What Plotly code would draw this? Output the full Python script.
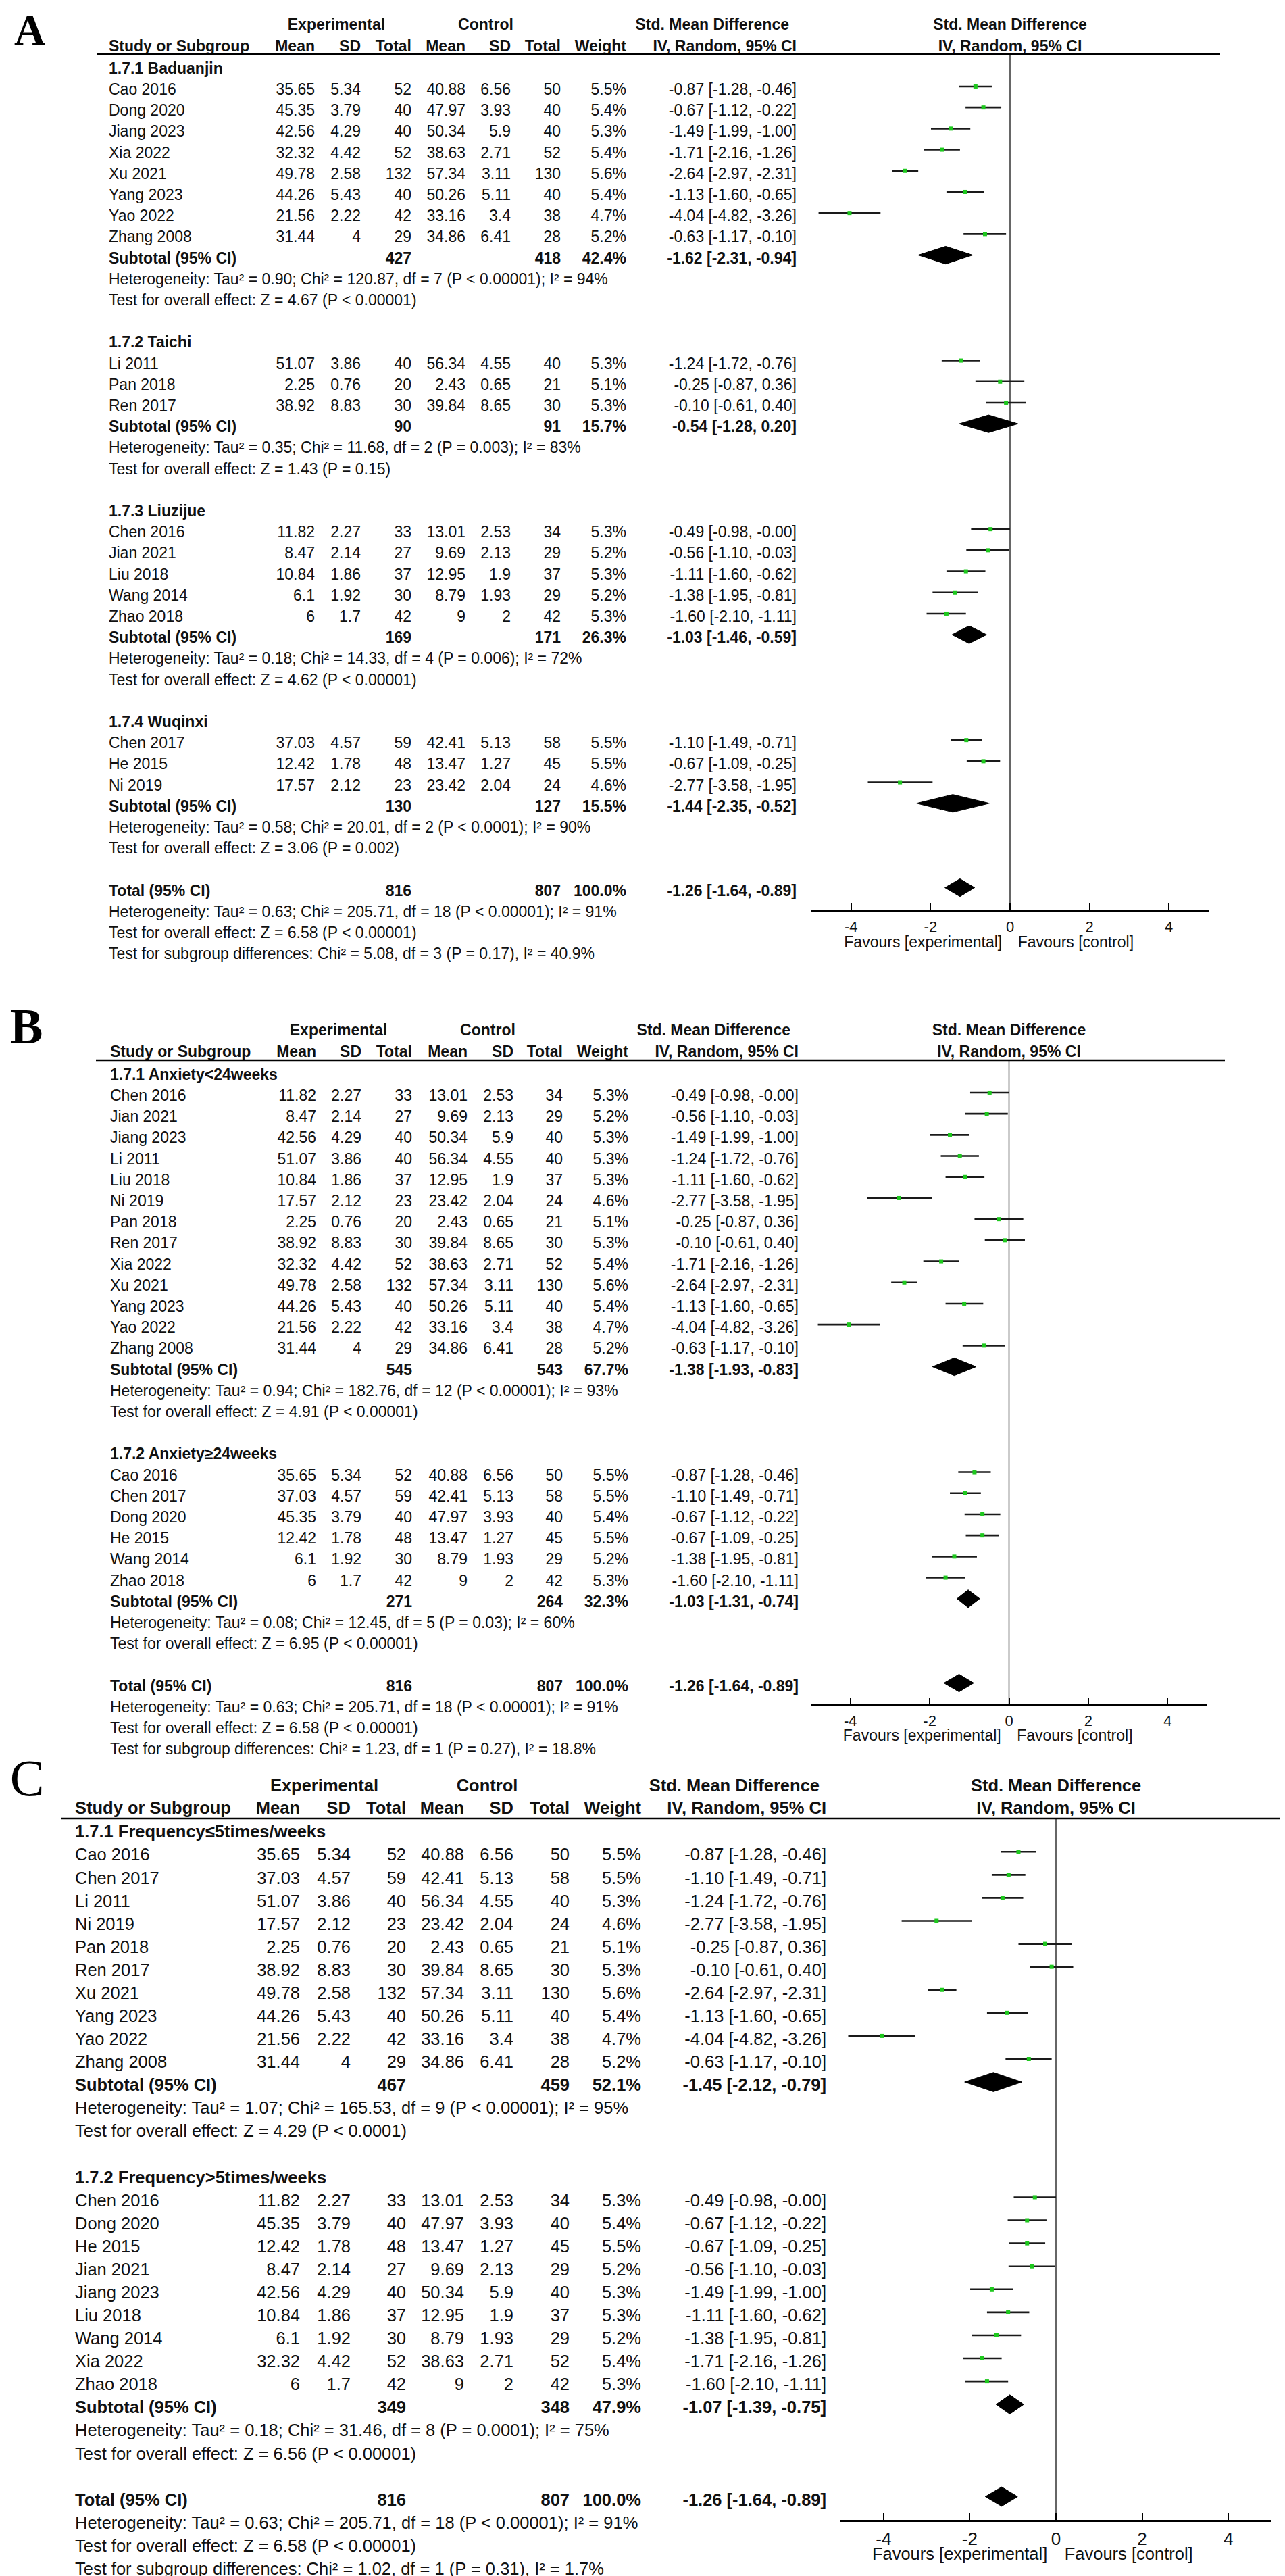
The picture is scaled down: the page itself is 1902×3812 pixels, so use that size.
import plotly.graph_objects as go

W, H = 1902, 3812

# ------------------------------------------------------------------ data
study_names = ["Cao 2016", "Dong 2020", "Jiang 2023", "Xia 2022", "Xu 2021", "Yang 2023", "Yao 2022", "Zhang 2008",
               "Li 2011", "Pan 2018", "Ren 2017",
               "Chen 2016", "Jian 2021", "Liu 2018", "Wang 2014", "Zhao 2018",
               "Chen 2017", "He 2015", "Ni 2019"]
exp_mean = [35.65, 45.35, 42.56, 32.32, 49.78, 44.26, 21.56, 31.44, 51.07, 2.25, 38.92,
            11.82, 8.47, 10.84, 6.1, 6, 37.03, 12.42, 17.57]
exp_sd = [5.34, 3.79, 4.29, 4.42, 2.58, 5.43, 2.22, 4, 3.86, 0.76, 8.83,
          2.27, 2.14, 1.86, 1.92, 1.7, 4.57, 1.78, 2.12]
exp_n = [52, 40, 40, 52, 132, 40, 42, 29, 40, 20, 30, 33, 27, 37, 30, 42, 59, 48, 23]
ctl_mean = [40.88, 47.97, 50.34, 38.63, 57.34, 50.26, 33.16, 34.86, 56.34, 2.43, 39.84,
            13.01, 9.69, 12.95, 8.79, 9, 42.41, 13.47, 23.42]
ctl_sd = [6.56, 3.93, 5.9, 2.71, 3.11, 5.11, 3.4, 6.41, 4.55, 0.65, 8.65,
          2.53, 2.13, 1.9, 1.93, 2, 5.13, 1.27, 2.04]
ctl_n = [50, 40, 40, 52, 130, 40, 38, 28, 40, 21, 30, 34, 29, 37, 29, 42, 58, 45, 24]
weight = [5.5, 5.4, 5.3, 5.4, 5.6, 5.4, 4.7, 5.2, 5.3, 5.1, 5.3, 5.3, 5.2, 5.3, 5.2, 5.3, 5.5, 5.5, 4.6]
smd = [-0.87, -0.67, -1.49, -1.71, -2.64, -1.13, -4.04, -0.63, -1.24, -0.25, -0.10,
       -0.49, -0.56, -1.11, -1.38, -1.60, -1.10, -0.67, -2.77]
ci_low = [-1.28, -1.12, -1.99, -2.16, -2.97, -1.60, -4.82, -1.17, -1.72, -0.87, -0.61,
          -0.98, -1.10, -1.60, -1.95, -2.10, -1.49, -1.09, -3.58]
ci_high = [-0.46, -0.22, -1.00, -1.26, -2.31, -0.65, -3.26, -0.10, -0.76, 0.36, 0.40,
           -0.00, -0.03, -0.62, -0.81, -1.11, -0.71, -0.25, -1.95]

# Panel A: by exercise type
a_titles = ["1.7.1 Baduanjin", "1.7.2 Taichi", "1.7.3 Liuzijue", "1.7.4 Wuqinxi"]
a_members = [["Cao 2016", "Dong 2020", "Jiang 2023", "Xia 2022", "Xu 2021", "Yang 2023", "Yao 2022", "Zhang 2008"],
             ["Li 2011", "Pan 2018", "Ren 2017"],
             ["Chen 2016", "Jian 2021", "Liu 2018", "Wang 2014", "Zhao 2018"],
             ["Chen 2017", "He 2015", "Ni 2019"]]
a_sub_n_exp = [427, 90, 169, 130]
a_sub_n_ctl = [418, 91, 171, 127]
a_sub_weight = [42.4, 15.7, 26.3, 15.5]
a_sub_smd = [-1.62, -0.54, -1.03, -1.44]
a_sub_low = [-2.31, -1.28, -1.46, -2.35]
a_sub_high = [-0.94, 0.20, -0.59, -0.52]
a_sub_het = ["Heterogeneity: Tau² = 0.90; Chi² = 120.87, df = 7 (P < 0.00001); I² = 94%",
             "Heterogeneity: Tau² = 0.35; Chi² = 11.68, df = 2 (P = 0.003); I² = 83%",
             "Heterogeneity: Tau² = 0.18; Chi² = 14.33, df = 4 (P = 0.006); I² = 72%",
             "Heterogeneity: Tau² = 0.58; Chi² = 20.01, df = 2 (P < 0.0001); I² = 90%"]
a_sub_test = ["Test for overall effect: Z = 4.67 (P < 0.00001)",
              "Test for overall effect: Z = 1.43 (P = 0.15)",
              "Test for overall effect: Z = 4.62 (P < 0.00001)",
              "Test for overall effect: Z = 3.06 (P = 0.002)"]
a_subgroup_diff = "Test for subgroup differences: Chi² = 5.08, df = 3 (P = 0.17), I² = 40.9%"

# Panel B: by duration
b_titles = ["1.7.1 Anxiety<24weeks", "1.7.2 Anxiety≥24weeks"]
b_members = [["Chen 2016", "Jian 2021", "Jiang 2023", "Li 2011", "Liu 2018", "Ni 2019", "Pan 2018",
              "Ren 2017", "Xia 2022", "Xu 2021", "Yang 2023", "Yao 2022", "Zhang 2008"],
             ["Cao 2016", "Chen 2017", "Dong 2020", "He 2015", "Wang 2014", "Zhao 2018"]]
b_sub_n_exp = [545, 271]
b_sub_n_ctl = [543, 264]
b_sub_weight = [67.7, 32.3]
b_sub_smd = [-1.38, -1.03]
b_sub_low = [-1.93, -1.31]
b_sub_high = [-0.83, -0.74]
b_sub_het = ["Heterogeneity: Tau² = 0.94; Chi² = 182.76, df = 12 (P < 0.00001); I² = 93%",
             "Heterogeneity: Tau² = 0.08; Chi² = 12.45, df = 5 (P = 0.03); I² = 60%"]
b_sub_test = ["Test for overall effect: Z = 4.91 (P < 0.00001)",
              "Test for overall effect: Z = 6.95 (P < 0.00001)"]
b_subgroup_diff = "Test for subgroup differences: Chi² = 1.23, df = 1 (P = 0.27), I² = 18.8%"

# Panel C: by frequency
c_titles = ["1.7.1 Frequency≤5times/weeks", "1.7.2 Frequency>5times/weeks"]
c_members = [["Cao 2016", "Chen 2017", "Li 2011", "Ni 2019", "Pan 2018", "Ren 2017", "Xu 2021",
              "Yang 2023", "Yao 2022", "Zhang 2008"],
             ["Chen 2016", "Dong 2020", "He 2015", "Jian 2021", "Jiang 2023", "Liu 2018", "Wang 2014",
              "Xia 2022", "Zhao 2018"]]
c_sub_n_exp = [467, 349]
c_sub_n_ctl = [459, 348]
c_sub_weight = [52.1, 47.9]
c_sub_smd = [-1.45, -1.07]
c_sub_low = [-2.12, -1.39]
c_sub_high = [-0.79, -0.75]
c_sub_het = ["Heterogeneity: Tau² = 1.07; Chi² = 165.53, df = 9 (P < 0.00001); I² = 95%",
             "Heterogeneity: Tau² = 0.18; Chi² = 31.46, df = 8 (P = 0.0001); I² = 75%"]
c_sub_test = ["Test for overall effect: Z = 4.29 (P < 0.0001)",
              "Test for overall effect: Z = 6.56 (P < 0.00001)"]
c_subgroup_diff = "Test for subgroup differences: Chi² = 1.02, df = 1 (P = 0.31), I² = 1.7%"

# Overall
total_n_exp = 816
total_n_ctl = 807
total_weight = 100.0
total_smd = -1.26
total_low = -1.64
total_high = -0.89
total_het = "Heterogeneity: Tau² = 0.63; Chi² = 205.71, df = 18 (P < 0.00001); I² = 91%"
total_test = "Test for overall effect: Z = 6.58 (P < 0.00001)"

axis_ticks = [-4, -2, 0, 2, 4]
axis_ticktext = ["-4", "-2", "0", "2", "4"]
favours_left = "Favours [experimental]"
favours_right = "Favours [control]"

# ------------------------------------------------------------------ style / layout constants
FONT = "Liberation Sans, Arial, sans-serif"
SERIF = "Liberation Serif, Times New Roman, serif"
TXT = "#111111"
GREEN = "#1ec81e"
MARK_OFF = -0.2       # marks sit a little above text centre (rows)
DIAM_H = 0.42         # diamond half height (rows)
ROW0 = 10             # row number of the first subgroup title (keeps 0 off the panel)

panels = [
    dict(letter="A", letter_bold=True, letter_x=36, letter_size=64,
         titles=a_titles, members=a_members, sn_e=a_sub_n_exp, sn_c=a_sub_n_ctl, sw=a_sub_weight,
         ss=a_sub_smd, sl=a_sub_low, sh=a_sub_high, het=a_sub_het, test=a_sub_test, sgd=a_subgroup_diff,
         y0=0, y1=1440, r0=95, rh=31.2, fs=23, tfs=22,
         cols=dict(study=153, me=458, se=526, ne=601, mc=681, sc=748, nc=822, w=919, smd=1171,
                   exp=490, ctl=711, smdh1=1160, smdh2=1171),
         line=(135, 1798), fx=(1193, 1781), axis_px=1340, fav_px=1388,
         exp_px=30, head_px=62, line_px=72, letter_px=42),
    dict(letter="B", letter_bold=True, letter_x=31, letter_size=73,
         titles=b_titles, members=b_members, sn_e=b_sub_n_exp, sn_c=b_sub_n_ctl, sw=b_sub_weight,
         ss=b_sub_smd, sl=b_sub_low, sh=b_sub_high, het=b_sub_het, test=b_sub_test, sgd=b_subgroup_diff,
         y0=1440, y1=2596, r0=1584, rh=31.2, fs=23, tfs=22,
         cols=dict(study=155, me=460, se=527, ne=602, mc=684, sc=752, nc=825, w=922, smd=1174,
                   exp=493, ctl=714, smdh1=1162, smdh2=1174),
         line=(134, 1805), fx=(1192, 1779), axis_px=2515, fav_px=2562,
         exp_px=1518, head_px=1550, line_px=1561, letter_px=1518),
    dict(letter="C", letter_bold=False, letter_x=32, letter_size=76,
         titles=c_titles, members=c_members, sn_e=c_sub_n_exp, sn_c=c_sub_n_ctl, sw=c_sub_weight,
         ss=c_sub_smd, sl=c_sub_low, sh=c_sub_high, het=c_sub_het, test=c_sub_test, sgd=c_subgroup_diff,
         y0=2596, y1=3812, r0=2705, rh=34.08, fs=25.5, tfs=26,
         cols=dict(study=103, me=436, se=511, ne=593, mc=679, sc=752, nc=835, w=941, smd=1215,
                   exp=472, ctl=713, smdh1=1205, smdh2=1215),
         line=(83, 1900), fx=(1236, 1874), axis_px=3722, fav_px=3774,
         exp_px=2637, head_px=2670, line_px=2683, letter_px=2630),
]


def fmt_ci(s, l, h):
    return f"{s:.2f} [{l:.2f}, {h:.2f}]"


def b(t):
    return f"<b>{t}</b>"


HIDDEN = dict(visible=False, showline=False, showticklabels=False, showgrid=False,
              zeroline=False, ticks="", fixedrange=True)

fig = go.Figure()
layout_axes = {
    "xaxis": dict(domain=[0, 1], range=[0, W], anchor="y", **HIDDEN),
}
shapes = []

for i, P in enumerate(panels):
    yname = "y" if i == 0 else f"y{i + 1}"
    ykey = "yaxis" if i == 0 else f"yaxis{i + 1}"
    fxname = f"x{i + 2}"
    fxkey = f"xaxis{i + 2}"

    def rr(px, P=P):
        # pixel row position -> row number on this panel's row axis
        return ROW0 + (px - P["r0"]) / P["rh"]

    r_top, r_bot = rr(P["y0"]), rr(P["y1"])
    axis_r, fav_r = rr(P["axis_px"]), rr(P["fav_px"])
    exp_r, head_r, line_r, letter_r = rr(P["exp_px"]), rr(P["head_px"]), rr(P["line_px"]), rr(P["letter_px"])
    layout_axes[ykey] = dict(domain=[1 - P["y1"] / H, 1 - P["y0"] / H], range=[r_bot, r_top],
                             anchor="x", **HIDDEN)
    layout_axes[fxkey] = dict(domain=[P["fx"][0] / W, P["fx"][1] / W], range=[-5, 5],
                              anchor="free", position=1 - P["axis_px"] / H,
                              showline=True, linecolor="black", linewidth=3,
                              ticks="inside", ticklen=10, tickwidth=2, tickcolor="black",
                              tickvals=axis_ticks, ticktext=axis_ticktext,
                              tickfont=dict(family=FONT, size=P["tfs"], color=TXT),
                              ticklabelstandoff=3,
                              showgrid=False, zeroline=False, fixedrange=True)
    C = P["cols"]
    L = dict(x=[], y=[], t=[])   # left aligned
    R = dict(x=[], y=[], t=[])   # right aligned
    M = dict(x=[], y=[], t=[])   # centred

    def add(D, x, y, t):
        D["x"].append(x); D["y"].append(y); D["t"].append(t)

    # headers
    add(M, C["exp"], exp_r, b("Experimental"))
    add(M, C["ctl"], exp_r, b("Control"))
    add(R, C["smdh1"], exp_r, b("Std. Mean Difference"))
    add(R, C["smdh2"], head_r, b("IV, Random, 95% CI"))
    add(L, C["study"], head_r, b("Study or Subgroup"))
    for key, lab in [("me", "Mean"), ("se", "SD"), ("ne", "Total"), ("mc", "Mean"),
                     ("sc", "SD"), ("nc", "Total"), ("w", "Weight")]:
        add(R, C[key], head_r, b(lab))

    ci_x, ci_y, pt_x, pt_y, dia_x, dia_y = [], [], [], [], [], []
    r = ROW0
    for g, title in enumerate(P["titles"]):
        add(L, C["study"], r, b(title))
        r += 1
        for name in P["members"][g]:
            k = study_names.index(name)
            add(L, C["study"], r, name)
            add(R, C["me"], r, f"{exp_mean[k]:g}")
            add(R, C["se"], r, f"{exp_sd[k]:g}")
            add(R, C["ne"], r, f"{exp_n[k]}")
            add(R, C["mc"], r, f"{ctl_mean[k]:g}")
            add(R, C["sc"], r, f"{ctl_sd[k]:g}")
            add(R, C["nc"], r, f"{ctl_n[k]}")
            add(R, C["w"], r, f"{weight[k]:.1f}%")
            add(R, C["smd"], r, fmt_ci(smd[k], ci_low[k], ci_high[k]))
            ci_x += [ci_low[k], ci_high[k], None]
            ci_y += [r + MARK_OFF, r + MARK_OFF, None]
            pt_x.append(smd[k]); pt_y.append(r + MARK_OFF)
            r += 1
        add(L, C["study"], r, b("Subtotal (95% CI)"))
        add(R, C["ne"], r, b(f"{P['sn_e'][g]}"))
        add(R, C["nc"], r, b(f"{P['sn_c'][g]}"))
        add(R, C["w"], r, b(f"{P['sw'][g]:.1f}%"))
        add(R, C["smd"], r, b(fmt_ci(P["ss"][g], P["sl"][g], P["sh"][g])))
        yc = r + MARK_OFF
        dia_x += [P["sl"][g], P["ss"][g], P["sh"][g], P["ss"][g], P["sl"][g], None]
        dia_y += [yc, yc - DIAM_H, yc, yc + DIAM_H, yc, None]
        r += 1
        add(L, C["study"], r, P["het"][g]); r += 1
        add(L, C["study"], r, P["test"][g]); r += 1
        r += 1
    # overall
    add(L, C["study"], r, b("Total (95% CI)"))
    add(R, C["ne"], r, b(f"{total_n_exp}"))
    add(R, C["nc"], r, b(f"{total_n_ctl}"))
    add(R, C["w"], r, b(f"{total_weight:.1f}%"))
    add(R, C["smd"], r, b(fmt_ci(total_smd, total_low, total_high)))
    yc = r + MARK_OFF
    dia_x += [total_low, total_smd, total_high, total_smd, total_low, None]
    dia_y += [yc, yc - DIAM_H, yc, yc + DIAM_H, yc, None]
    r += 1
    add(L, C["study"], r, total_het); r += 1
    add(L, C["study"], r, total_test); r += 1
    add(L, C["study"], r, P["sgd"])

    tf = dict(family=FONT, size=P["fs"], color=TXT)
    for D, pos in [(L, "middle right"), (R, "middle left"), (M, "middle center")]:
        fig.add_trace(go.Scatter(x=D["x"], y=D["y"], text=D["t"], mode="text", textposition=pos,
                                 textfont=tf, xaxis="x", yaxis=yname, cliponaxis=False,
                                 hoverinfo="skip", showlegend=False))
    # panel letter
    fig.add_trace(go.Scatter(x=[P["letter_x"]], y=[letter_r],
                             text=[b(P["letter"]) if P["letter_bold"] else P["letter"]],
                             mode="text", textposition="middle center",
                             textfont=dict(family=SERIF, size=P["letter_size"], color="black"),
                             xaxis="x", yaxis=yname, cliponaxis=False, hoverinfo="skip", showlegend=False))
    # header underline
    shapes.append(dict(type="line", xref="x", yref=yname, x0=P["line"][0], x1=P["line"][1],
                       y0=line_r, y1=line_r, line=dict(color="black", width=2.5), layer="above"))
    # forest header + favours labels
    fig.add_trace(go.Scatter(x=[0, 0], y=[exp_r, head_r],
                             text=[b("Std. Mean Difference"), b("IV, Random, 95% CI")],
                             mode="text", textposition="middle center", textfont=tf,
                             xaxis=fxname, yaxis=yname, cliponaxis=False, hoverinfo="skip", showlegend=False))
    fig.add_trace(go.Scatter(x=[-0.2, 0.2], y=[fav_r, fav_r], text=[favours_left, favours_right],
                             mode="text", textposition=["middle left", "middle right"], textfont=tf,
                             xaxis=fxname, yaxis=yname, cliponaxis=False, hoverinfo="skip", showlegend=False))
    # zero line
    fig.add_trace(go.Scatter(x=[0, 0], y=[line_r, axis_r], mode="lines",
                             line=dict(color="#333333", width=1.5), xaxis=fxname, yaxis=yname,
                             hoverinfo="skip", showlegend=False))
    # CI lines
    fig.add_trace(go.Scatter(x=ci_x, y=ci_y, mode="lines", line=dict(color="#1a1a1a", width=2.6),
                             xaxis=fxname, yaxis=yname, hoverinfo="skip", showlegend=False))
    # point estimates
    fig.add_trace(go.Scatter(x=pt_x, y=pt_y, mode="markers",
                             marker=dict(symbol="square", size=6, color=GREEN, line=dict(width=0)),
                             xaxis=fxname, yaxis=yname, cliponaxis=False, hoverinfo="skip", showlegend=False))
    # diamonds
    fig.add_trace(go.Scatter(x=dia_x, y=dia_y, mode="lines", fill="toself", fillcolor="black",
                             line=dict(color="black", width=1), xaxis=fxname, yaxis=yname,
                             hoverinfo="skip", showlegend=False))

fig.update_layout(width=W, height=H, autosize=False, margin=dict(l=0, r=0, t=0, b=0),
                  paper_bgcolor="white", plot_bgcolor="white", showlegend=False,
                  shapes=shapes, **layout_axes)

fig.write_html("out.html", config={"displayModeBar": False})
